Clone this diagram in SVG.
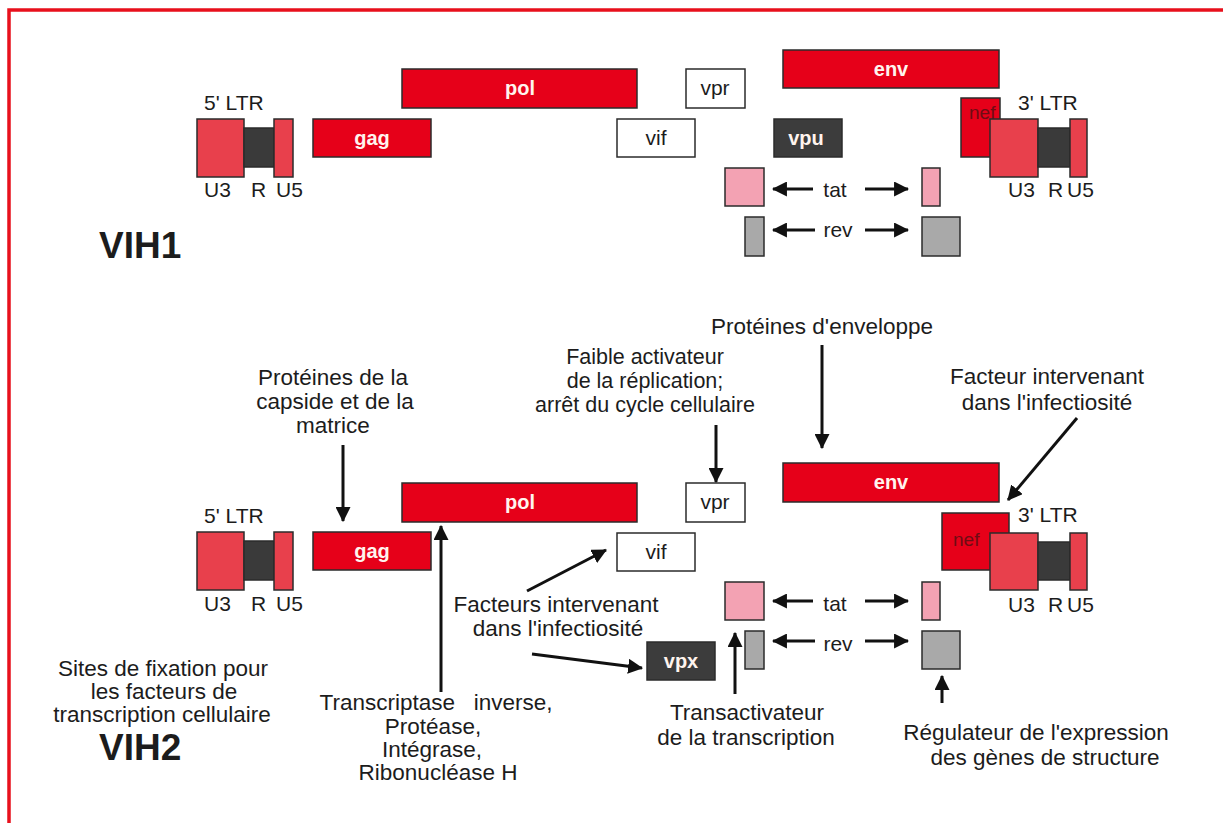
<svg xmlns="http://www.w3.org/2000/svg" width="1223" height="823" viewBox="0 0 1223 823">
  <style>
    text { font-family: "Liberation Sans", Arial, sans-serif; fill: #1c1c1c; }
    .lbl { font-size: 21px; }
    .ann { font-size: 22.5px; text-anchor: middle; }
    .tight { font-size: 21.5px; }
    .title { font-size: 37px; font-weight: bold; }
    .gene { fill: #e60019; stroke: #2b2b2b; stroke-width: 1.5; }
    .ltr { fill: #e8404c; stroke: #2b2b2b; stroke-width: 1.5; }
    .rseg { fill: #3a3a3a; stroke: #2b2b2b; stroke-width: 1.5; }
    .open { fill: #ffffff; stroke: #2b2b2b; stroke-width: 1.5; }
    .dark { fill: #3c3c3c; stroke: #2b2b2b; stroke-width: 1.5; }
    .tat { fill: #f3a2b3; stroke: #2b2b2b; stroke-width: 1.5; }
    .rev { fill: #a9a9a9; stroke: #2b2b2b; stroke-width: 1.5; }
    .gtxt { font-size: 20px; font-weight: bold; fill: #fff4ee; text-anchor: middle; }
    .btxt { font-size: 21px; text-anchor: middle; }
    .neft { font-size: 19px; fill: #6e0c14; }
    .arr { stroke: #111; stroke-width: 3; fill: none; marker-end: url(#head); }
  </style>
  <defs>
    <marker id="head" viewBox="0 0 14 14" refX="13" refY="7" markerWidth="15" markerHeight="15" markerUnits="userSpaceOnUse" orient="auto">
      <path d="M0,0 L14,7 L0,14 z" fill="#111"/>
    </marker>
  </defs>

  <rect width="1223" height="823" fill="#ffffff"/>
  <!-- frame -->
  <path d="M9,823 V10 H1223" fill="none" stroke="#e8101c" stroke-width="3.5"/>

  <!-- ================= VIH1 ================= -->
  <g id="vih1-title"><text class="title" x="99" y="258">VIH1</text></g>

  <g id="vih1-ltr5">
    <text class="lbl" x="204" y="110">5' LTR</text>
    <rect class="ltr" x="197" y="119" width="47" height="58"/>
    <rect class="rseg" x="244" y="128" width="30" height="39"/>
    <rect class="ltr" x="274" y="119" width="19" height="58"/>
    <text class="lbl" x="204" y="197">U3</text>
    <text class="lbl" x="251" y="197">R</text>
    <text class="lbl" x="276" y="197">U5</text>
  </g>
  <g id="vih1-gag"><rect class="gene" x="313" y="119" width="118" height="38"/><text class="gtxt" x="372" y="145">gag</text></g>
  <g id="vih1-pol"><rect class="gene" x="402" y="69" width="235" height="39"/><text class="gtxt" x="520" y="95">pol</text></g>
  <g id="vih1-vif"><rect class="open" x="617" y="119" width="78" height="38"/><text class="btxt" x="656" y="145">vif</text></g>
  <g id="vih1-vpr"><rect class="open" x="686" y="69" width="59" height="39"/><text class="btxt" x="715" y="95">vpr</text></g>
  <g id="vih1-env"><rect class="gene" x="783" y="50" width="216" height="38"/><text class="gtxt" x="891" y="76">env</text></g>
  <g id="vih1-vpu"><rect class="dark" x="774" y="119" width="68" height="38"/><text class="gtxt" x="806" y="145">vpu</text></g>
  <g id="vih1-nef"><rect class="gene" x="961" y="98" width="39" height="59"/><text class="neft" x="969" y="119">nef</text></g>
  <g id="vih1-ltr3">
    <text class="lbl" x="1018" y="110">3' LTR</text>
    <rect class="ltr" x="990" y="119" width="48" height="58"/>
    <rect class="rseg" x="1038" y="128" width="32" height="39"/>
    <rect class="ltr" x="1070" y="119" width="17" height="58"/>
    <text class="lbl" x="1008" y="197">U3</text>
    <text class="lbl" x="1048" y="197">R</text>
    <text class="lbl" x="1067" y="197">U5</text>
  </g>
  <g id="vih1-tat">
    <rect class="tat" x="725" y="168" width="39" height="38"/>
    <rect class="tat" x="922" y="168" width="18" height="38"/>
    <text class="btxt" x="835" y="197">tat</text>
  </g>
  <g id="vih1-rev">
    <rect class="rev" x="745" y="217" width="19" height="39"/>
    <rect class="rev" x="922" y="217" width="38" height="39"/>
    <text class="btxt" x="838" y="237">rev</text>
  </g>

  <!-- ================= VIH2 ================= -->
  <g id="vih2-title"><text class="title" x="99" y="760">VIH2</text></g>

  <g id="vih2-ltr5">
    <text class="lbl" x="204" y="523">5' LTR</text>
    <rect class="ltr" x="197" y="532" width="47" height="58"/>
    <rect class="rseg" x="244" y="541" width="30" height="39"/>
    <rect class="ltr" x="274" y="532" width="19" height="58"/>
    <text class="lbl" x="204" y="611">U3</text>
    <text class="lbl" x="251" y="611">R</text>
    <text class="lbl" x="276" y="611">U5</text>
  </g>
  <g id="vih2-gag"><rect class="gene" x="313" y="532" width="118" height="38"/><text class="gtxt" x="372" y="558">gag</text></g>
  <g id="vih2-pol"><rect class="gene" x="402" y="483" width="235" height="39"/><text class="gtxt" x="520" y="509">pol</text></g>
  <g id="vih2-vif"><rect class="open" x="617" y="533" width="78" height="38"/><text class="btxt" x="656" y="559">vif</text></g>
  <g id="vih2-vpr"><rect class="open" x="686" y="483" width="59" height="39"/><text class="btxt" x="715" y="509">vpr</text></g>
  <g id="vih2-env"><rect class="gene" x="783" y="463" width="216" height="39"/><text class="gtxt" x="891" y="489">env</text></g>
  <g id="vih2-vpx"><rect class="dark" x="647" y="642" width="68" height="38"/><text class="gtxt" x="681" y="668">vpx</text></g>
  <g id="vih2-nef"><rect class="gene" x="942" y="513" width="67" height="57"/><text class="neft" x="953" y="546">nef</text></g>
  <g id="vih2-ltr3">
    <text class="lbl" x="1018" y="522">3' LTR</text>
    <rect class="ltr" x="990" y="533" width="48" height="57"/>
    <rect class="rseg" x="1038" y="542" width="32" height="38"/>
    <rect class="ltr" x="1070" y="533" width="17" height="57"/>
    <text class="lbl" x="1008" y="612">U3</text>
    <text class="lbl" x="1048" y="612">R</text>
    <text class="lbl" x="1067" y="612">U5</text>
  </g>
  <g id="vih2-tat">
    <rect class="tat" x="725" y="582" width="39" height="38"/>
    <rect class="tat" x="922" y="582" width="18" height="38"/>
    <text class="btxt" x="835" y="611">tat</text>
  </g>
  <g id="vih2-rev">
    <rect class="rev" x="745" y="631" width="19" height="38"/>
    <rect class="rev" x="922" y="631" width="38" height="38"/>
    <text class="btxt" x="838" y="651">rev</text>
  </g>

  <!-- annotations -->
  <g id="note-capside">
    <text class="ann" x="333" y="385">Protéines de la</text>
    <text class="ann" x="335" y="409">capside et de la</text>
    <text class="ann" x="333" y="433">matrice</text>
  </g>
  <g id="note-vpr">
    <text class="ann tight" x="645" y="364">Faible activateur</text>
    <text class="ann tight" x="645" y="388">de la réplication;</text>
    <text class="ann tight" x="645" y="412">arrêt du cycle cellulaire</text>
  </g>
  <g id="note-env"><text class="ann" x="822" y="334">Protéines d'enveloppe</text></g>
  <g id="note-nef">
    <text class="ann" x="1047" y="384">Facteur intervenant</text>
    <text class="ann" x="1047" y="410">dans l'infectiosité</text>
  </g>
  <g id="note-vif-vpx">
    <text class="ann" x="556" y="612">Facteurs intervenant</text>
    <text class="ann" x="558" y="636">dans l'infectiosité</text>
  </g>
  <g id="note-ltr">
    <text class="ann" x="163" y="676">Sites de fixation pour</text>
    <text class="ann" x="164" y="699">les facteurs de</text>
    <text class="ann" x="162" y="722">transcription cellulaire</text>
  </g>
  <g id="note-pol">
    <text class="ann" x="436" y="710" xml:space="preserve">Transcriptase   inverse,</text>
    <text class="ann" x="433" y="734">Protéase,</text>
    <text class="ann" x="432" y="757">Intégrase,</text>
    <text class="ann" x="438" y="780">Ribonucléase H</text>
  </g>
  <g id="note-tat">
    <text class="ann" x="747" y="720">Transactivateur</text>
    <text class="ann" x="746" y="745">de la transcription</text>
  </g>
  <g id="note-rev">
    <text class="ann" x="1036" y="740">Régulateur de l'expression</text>
    <text class="ann" x="1045" y="765">des gènes de structure</text>
  </g>

  <!-- connectors -->
  <g id="connectors">
    <line class="arr" x1="813" y1="189" x2="773" y2="189"/>
    <line class="arr" x1="865" y1="189" x2="908" y2="189"/>
    <line class="arr" x1="815" y1="230" x2="773" y2="230"/>
    <line class="arr" x1="865" y1="230" x2="908" y2="230"/>

    <line class="arr" x1="813" y1="601" x2="773" y2="601"/>
    <line class="arr" x1="865" y1="601" x2="908" y2="601"/>
    <line class="arr" x1="815" y1="641" x2="773" y2="641"/>
    <line class="arr" x1="865" y1="641" x2="908" y2="641"/>

    <line class="arr" x1="343" y1="445" x2="343" y2="521"/>
    <line class="arr" x1="716" y1="425" x2="716" y2="482"/>
    <line class="arr" x1="822" y1="345" x2="822" y2="448"/>
    <line class="arr" x1="1077" y1="418" x2="1008" y2="500"/>
    <line class="arr" x1="441" y1="692" x2="441" y2="526"/>
    <line class="arr" x1="527" y1="591" x2="606" y2="550"/>
    <line class="arr" x1="532" y1="654" x2="642" y2="668"/>
    <line class="arr" x1="735" y1="694" x2="735" y2="633"/>
    <line class="arr" x1="942" y1="703" x2="942" y2="676"/>
  </g>
</svg>
